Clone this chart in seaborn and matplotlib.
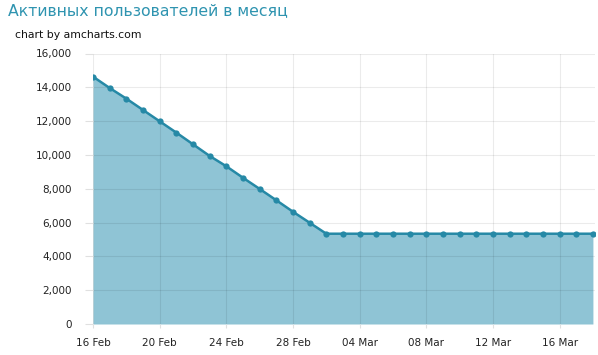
import matplotlib
matplotlib.use("Agg")
import matplotlib.pyplot as plt
import matplotlib.dates as mdates
import matplotlib.ticker as mticker
import seaborn as sns
import pandas as pd

# ---- data ----
dates = pd.date_range("2013-02-16", "2013-03-18", freq="D")
users = [14630, 13960, 13330, 12660, 11990, 11320, 10630, 9940, 9330, 8650,
         7990, 7320, 6640, 5990, 5340,
         5340, 5340, 5340, 5340, 5340, 5340, 5340, 5340, 5340, 5340,
         5340, 5340, 5340, 5340, 5340, 5340]
y_ticks = [0, 2000, 4000, 6000, 8000, 10000, 12000, 14000, 16000]
x_ticks = pd.date_range("2013-02-16", "2013-03-16", freq="4D")
title = "Активных пользователей в месяц"
credit = "chart by amcharts.com"

df = pd.DataFrame({"date": dates, "users": users})

sns.set_theme(style="white")
plt.rcParams["font.family"] = ["DejaVu Sans"]

fig = plt.figure(figsize=(5.98, 3.55), dpi=100)
ax = fig.add_axes([93/598, 31/355, 502/598, 270.5/355])

line_c = "#2689a6"
fill_c = "#8fc4d5"

ax.fill_between(df["date"], df["users"], 0, color=fill_c, linewidth=0, zorder=1)
sns.lineplot(data=df, x="date", y="users", ax=ax, color=line_c, linewidth=1.8,
             marker="o", markersize=4.5, markeredgewidth=0, zorder=3)

ax.set_xlim(dates[0], dates[-1] + pd.Timedelta(hours=3))
ax.set_ylim(0, 16000)
ax.set_yticks(y_ticks)
ax.yaxis.set_major_formatter(mticker.FuncFormatter(lambda v, p: f"{int(v):,}"))
ax.set_xticks(x_ticks)
ax.xaxis.set_major_formatter(mdates.DateFormatter("%d %b"))

ax.set_axisbelow(False)
ax.grid(True, color="black", alpha=0.08, linewidth=0.8, zorder=2)
for s in ax.spines.values():
    s.set_visible(False)
ax.set_xlabel("")
ax.set_ylabel("")
ax.tick_params(axis="y", length=6, width=0.8, color="#e0e0e0", pad=9,
               labelsize=7.5, labelcolor="#222222", left=True)
ax.tick_params(axis="x", length=3, width=0.8, color="#e0e0e0", pad=7,
               labelsize=7.5, labelcolor="#222222", bottom=True)

fig.text(8/598, 1 - 10.5/355, title, fontsize=11.3, color="#2f94b0",
         ha="left", va="center")
fig.text(15/598, 1 - 35/355, credit, fontsize=7.8, color="#111111",
         ha="left", va="center")

fig.savefig("out.png", dpi=100)
